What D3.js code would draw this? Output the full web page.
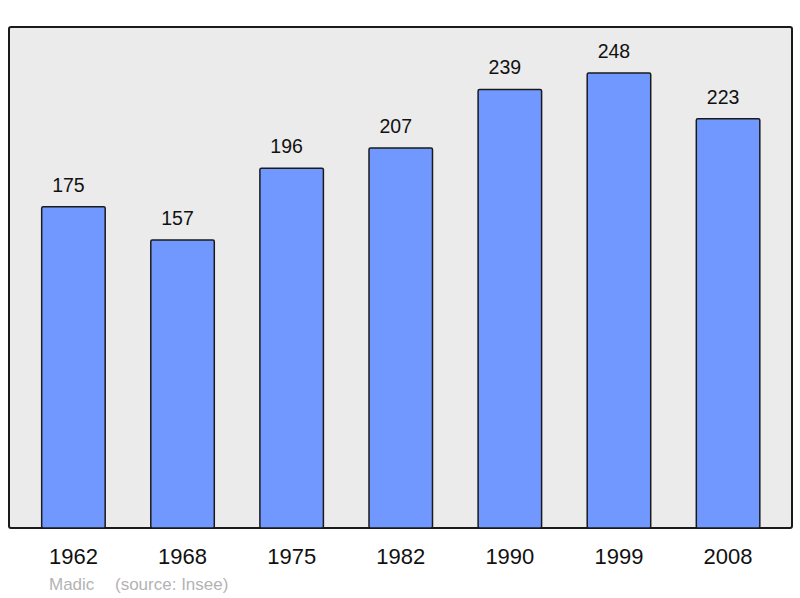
<!DOCTYPE html>
<html>
<head>
<meta charset="utf-8">
<script src="https://cdn.jsdelivr.net/npm/d3@7"></script>
<style>
  html, body { margin: 0; padding: 0; background: #fff; }
  svg { display: block; font-family: "Liberation Sans", Arial, sans-serif; }
</style>
</head>
<body>
<svg id="chart" width="800" height="598"></svg>
<script>
// data
const years = ["1962", "1968", "1975", "1982", "1990", "1999", "2008"];
const population = [175, 157, 196, 207, 239, 248, 223];
const credits = ["Madic", "(source: Insee)"];

const frame = { left: 9, top: 27, right: 792, bottom: 528 };

const svg = d3.select("#chart");

const x = d3.scaleBand()
  .domain(years)
  .range([frame.left + 0.5, frame.right])
  .paddingInner(0.418)
  .paddingOuter(0.295);

const y = d3.scaleLinear()
  .domain([0, 273])
  .range([frame.bottom, frame.top]);

// plot frame
svg.append("rect")
  .attr("x", frame.left).attr("y", frame.top)
  .attr("width", frame.right - frame.left)
  .attr("height", frame.bottom - frame.top)
  .attr("rx", 2)
  .attr("fill", "#ebebeb")
  .attr("stroke", "#1a1a1a")
  .attr("stroke-width", 2);

// bars
svg.append("g").selectAll("rect")
  .data(population)
  .join("rect")
  .attr("x", (d, i) => x(years[i]))
  .attr("y", d => y(d))
  .attr("width", x.bandwidth())
  .attr("height", d => y(0) - y(d))
  .attr("rx", 1.5)
  .attr("fill", "#7098ff")
  .attr("stroke", "#1a1a1a")
  .attr("stroke-width", 1.5);

// value labels
svg.append("g").selectAll("text")
  .data(population)
  .join("text")
  .attr("x", (d, i) => x(years[i]) + x.bandwidth() / 2 - 5)
  .attr("y", d => y(d) - 15)
  .attr("text-anchor", "middle")
  .attr("font-size", 19.5)
  .attr("fill", "#111")
  .text(d => d);

// x axis labels
const xAxis = d3.axisBottom(x).tickSize(0).tickPadding(0);
const gx = svg.append("g")
  .attr("transform", `translate(0,${frame.bottom})`)
  .call(xAxis);
gx.select(".domain").remove();
gx.selectAll("text")
  .attr("y", 36)
  .attr("dy", 0)
  .attr("font-size", 22)
  .attr("font-family", "Liberation Sans, Arial, sans-serif")
  .attr("fill", "#111");

// credits
svg.append("g").selectAll("text")
  .data(credits)
  .join("text")
  .attr("x", (d, i) => i === 0 ? 49 : 115)
  .attr("y", 590)
  .attr("font-size", 17)
  .attr("fill", "#b3b3b3")
  .text(d => d);
</script>
</body>
</html>
